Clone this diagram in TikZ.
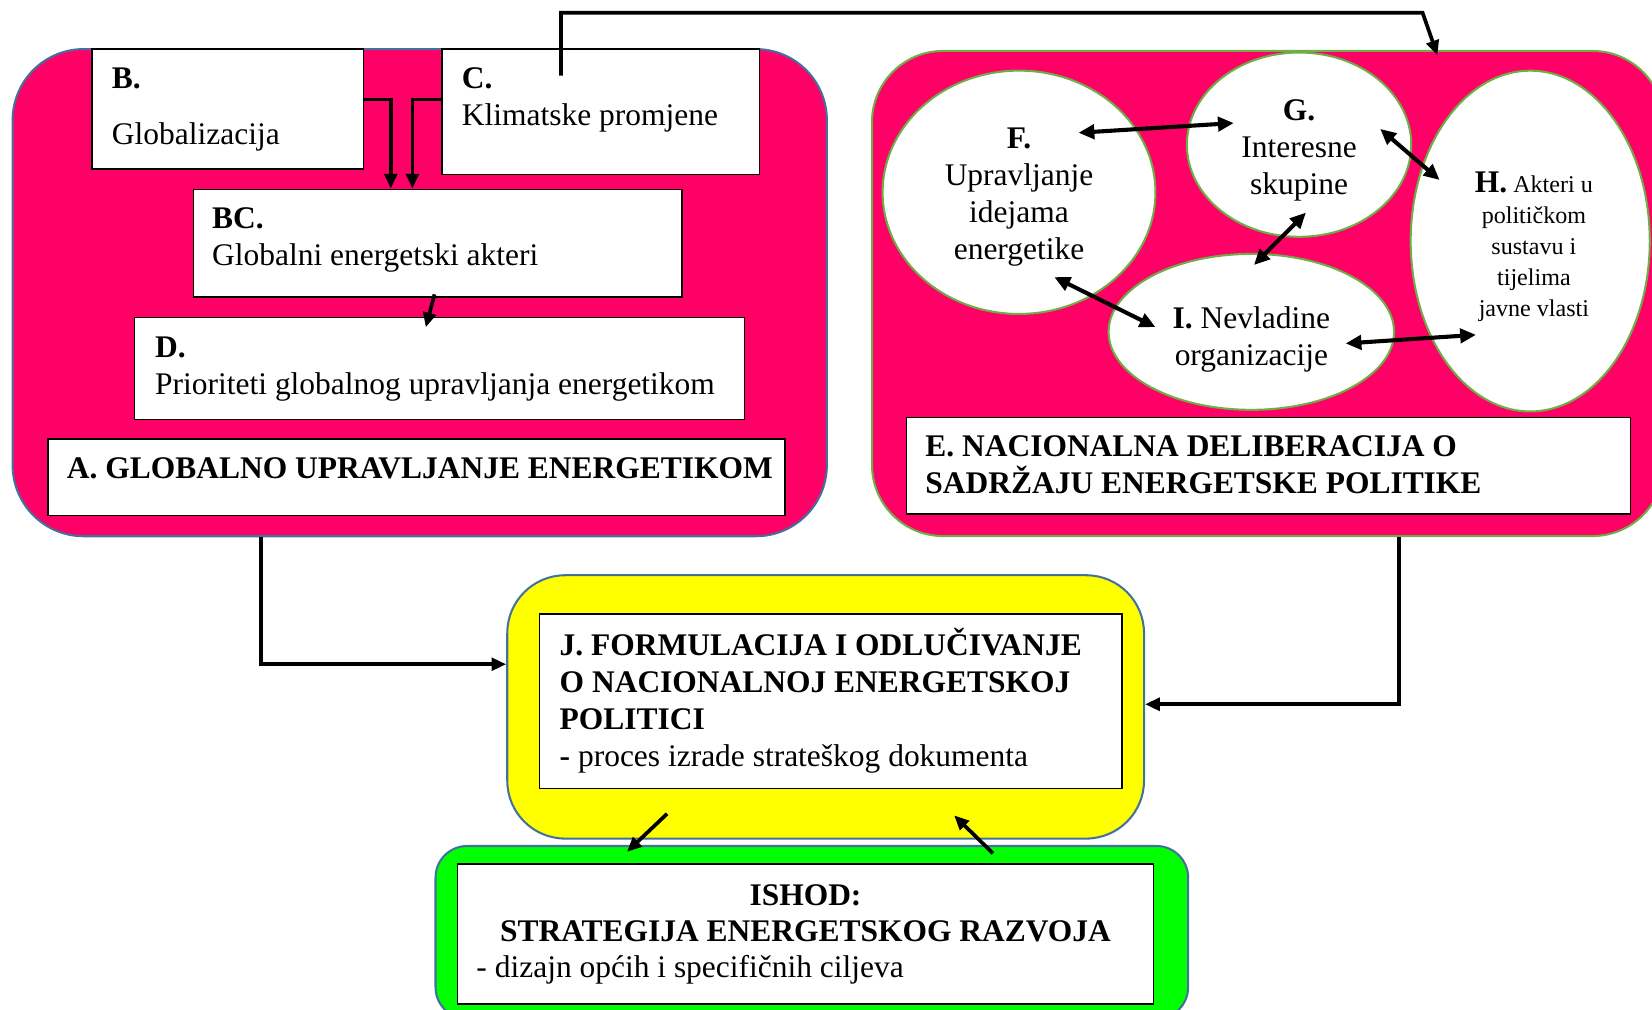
\documentclass[tikz,border=0pt]{standalone}
\usepackage{fontspec}
\setmainfont{Liberation Serif}
\usetikzlibrary{positioning,shapes.geometric,arrows.meta}
\definecolor{ruza}{HTML}{FF0066}
\definecolor{plavrub}{HTML}{41719C}
\definecolor{zelrub}{HTML}{70AD47}
\definecolor{zuta}{HTML}{FFFF00}
\definecolor{zelena}{HTML}{00FF00}
\begin{document}
\begin{tikzpicture}[x=0.02cm,y=-0.02cm,
  panel/.style={draw, line width=1.1pt, anchor=north west, inner sep=0},
  okvir/.style={draw, fill=white, line width=0.8pt, anchor=north west, inner sep=0},
  krug/.style={ellipse, draw=zelrub, fill=white, line width=1.1pt, inner sep=0},
  tekst/.style={inner sep=0, align=left, font=\fontsize{17pt}{19.9pt}\selectfont, execute at begin node=\strut},
  sitno/.style={inner sep=0, align=center, font=\fontsize{13pt}{16.8pt}\selectfont, execute at begin node=\strut},
  pil/.style={-{Triangle[length=0.28cm,width=0.24cm]}, line width=2pt},
  dvo/.style={{Triangle[length=0.3cm,width=0.27cm]}-{Triangle[length=0.3cm,width=0.27cm]}, line width=2.2pt},
  ]
\useasboundingbox (0,0) rectangle (1568,958);

\node[panel, fill=ruza, draw=plavrub, rounded corners=1.35cm, minimum width=15.46cm, minimum height=9.25cm] (panelA) at (11,45.6) {};
\node[okvir, minimum width=5.16cm, minimum height=2.28cm] (boxB) at (86.4,45.8) {};
\node[okvir, minimum width=6.03cm, minimum height=2.38cm] (boxC) at (418.6,45.8) {};
\node[okvir, minimum width=9.27cm, minimum height=2.04cm] (boxBC) at (183,179) {};
\node[okvir, minimum width=11.58cm, minimum height=1.94cm] (boxD) at (127,300.7) {};
\node[okvir, minimum width=14cm, minimum height=1.45cm] (boxA) at (44.7,416) {};

\node[panel, fill=ruza, draw=zelrub, rounded corners=1.35cm, minimum width=15.03cm, minimum height=9.21cm] (panelE) at (826.7,47.4) {};
\node[krug, minimum width=5.18cm, minimum height=4.62cm] (F) at (967.2,182.5) {};
\node[krug, minimum width=4.26cm, minimum height=3.5cm] (G) at (1233,137.3) {};
\node[krug, minimum width=4.54cm, minimum height=6.47cm] (H) at (1452.4,228.8) {};
\node[krug, minimum width=5.42cm, minimum height=2.96cm] (I) at (1187.7,315) {};
\node[okvir, minimum width=13.75cm, minimum height=1.83cm] (boxE) at (859.5,395.5) {};

\node[panel, fill=zuta, draw=plavrub, rounded corners=1.1cm, minimum width=12.09cm, minimum height=5cm] (panelJ) at (480.5,545) {};
\node[okvir, minimum width=11.06cm, minimum height=3.31cm] (boxJ) at (511.4,582) {};
\node[panel, fill=zelena, draw=plavrub, rounded corners=0.6cm, minimum width=14.29cm, minimum height=3.28cm] (panelK) at (412.4,802) {};
\node[okvir, minimum width=13.22cm, minimum height=2.66cm] (boxK) at (433.4,819.4) {};

\node[tekst, below right=0.37cm and 0.39cm of boxB.north west] (tB) {\textbf{B.}\\[0.36cm]Globalizacija};
\node[tekst, below right=0.37cm and 0.39cm of boxC.north west] (tC) {\textbf{C.}\\Klimatske promjene};
\node[tekst, below right=0.35cm and 0.36cm of boxBC.north west] (tBC) {\textbf{BC.}\\Globalni energetski akteri};
\node[tekst, below right=0.38cm and 0.4cm of boxD.north west] (tD) {\textbf{D.}\\Prioriteti globalnog upravljanja energetikom};
\node[tekst, below right=0.27cm and 0.37cm of boxA.north west] (tA) {\textbf{A. GLOBALNO UPRAVLJANJE ENERGETIKOM}};

\node[tekst, align=center, below=1.1cm of F.north] (tF) {\textbf{F.}\\Upravljanje\\idejama\\energetike};
\node[tekst, align=center, below=0.91cm of G.north] (tG) {\textbf{G.}\\Interesne\\skupine};
\node[tekst, align=center, below=1.01cm of I.north] (tI) {\textbf{I.} Nevladine\\organizacije};
\node[sitno, below=1.93cm of H.north, xshift=0.07cm] (tH) {{\fontsize{17pt}{16.8pt}\selectfont\textbf{H.}} Akteri u\\političkom\\sustavu i\\tijelima\\javne vlasti};
\node[tekst, below right=0.36cm and 0.37cm of boxE.north west] (tE) {\textbf{E. NACIONALNA DELIBERACIJA O}\\\textbf{SADRŽAJU ENERGETSKE POLITIKE}};

\node[tekst, below right=0.28cm and 0.39cm of boxJ.north west] (tJ) {\textbf{J. FORMULACIJA I ODLUČIVANJE}\\\textbf{O NACIONALNOJ ENERGETSKOJ}\\\textbf{POLITICI}\\\textbf{-} proces izrade strateškog dokumenta};
\node[tekst, align=center, below=0.39cm of boxK.north] (tK) {\textbf{ISHOD:}\\\textbf{STRATEGIJA ENERGETSKOG RAZVOJA}};
\node[tekst, below right=1.68cm and 0.37cm of boxK.north west] (tK2) {- dizajn općih i specifičnih ciljeva};

\draw[pil] ([yshift=0.18cm]boxB.east) -| ([xshift=-0.89cm]boxBC.north);
\draw[pil] ([yshift=0.23cm]boxC.west) -| ([xshift=-0.48cm]boxBC.north);
\draw[pil] ([xshift=-0.06cm,yshift=0.06cm]boxBC.south) -- ([xshift=-0.26cm,yshift=-0.2cm]boxD.north);
\draw[pil] ([xshift=-0.75cm,yshift=-0.52cm]boxC.north) -- ++(0,-59.7) -- ++(817.7,0) -- ([xshift=3.22cm,yshift=-0.1cm]panelE.north);

\draw[dvo] ([xshift=1.13cm,yshift=1.13cm]F.center) -- ([xshift=-1.24cm,yshift=0.41cm]G.center);
\draw[dvo] ([xshift=1.54cm,yshift=0.3cm]G.center) -- ([xshift=-1.72cm,yshift=1.16cm]H.center);
\draw[dvo] ([xshift=0.13cm,yshift=-1.29cm]G.center) -- ([xshift=0.05cm,yshift=1.27cm]I.center);
\draw[dvo] ([xshift=0.67cm,yshift=-1.61cm]F.center) -- ([xshift=-1.82cm,yshift=0.09cm]I.center);
\draw[dvo] ([xshift=1.79cm,yshift=-0.22cm]I.center) -- ([xshift=-1.03cm,yshift=-1.78cm]H.center);

\draw[pil] ([xshift=-3.01cm]panelA.south) |- ([yshift=0.81cm]panelJ.west);
\draw[pil] ([xshift=2.49cm]panelE.south) |- ([yshift=0.05cm]panelJ.east);
\draw[pil] ([xshift=-3.01cm,yshift=0.49cm]panelJ.south) -- ([xshift=-3.51cm,yshift=-0.13cm]panelK.north);
\draw[pil] ([xshift=3.44cm,yshift=-0.16cm]panelK.north) -- ([xshift=2.44cm,yshift=0.46cm]panelJ.south);
\end{tikzpicture}
\end{document}
